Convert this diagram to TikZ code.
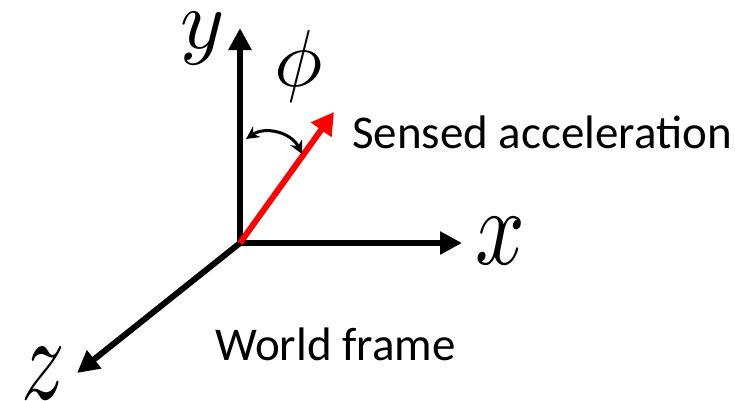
\documentclass[tikz,border=0pt]{standalone}
\usepackage{fontspec}
\setsansfont{Carlito}
\usetikzlibrary{arrows.meta}
\begin{document}
\begin{tikzpicture}[x=1pt,y=-1pt,
  axis/.style={line width=6pt,-{Triangle[length=22pt,width=22pt]}},
  vec/.style={line width=6pt,red,-{Triangle[length=22pt,width=24pt]}},
  angarc/.style={line width=3pt,{Stealth[length=13pt,width=13pt]}-{Stealth[length=13pt,width=13pt]}},
  mathlbl/.style={inner sep=0pt},
  txt/.style={font=\sffamily\fontsize{47}{50}\selectfont,inner sep=0pt,anchor=base west}]
\useasboundingbox (0,0) rectangle (735,400);
\coordinate (O) at (240,243);
\coordinate (Ytip) at (240,28);
\coordinate (Xtip) at (462,243);
\coordinate (Ztip) at (77,373);
\coordinate (Atip) at (334,112);
\coordinate (A1) at (246,139);
\coordinate (A2) at (302,154);
\draw[axis] (O) -- (Ytip);
\draw[axis] (O) -- (Xtip);
\draw[axis] (O) -- (Ztip);
\draw[vec] (O) -- (Atip);
\draw[angarc] (A1) .. controls (265,126) and (291,132) .. (A2);
\node[mathlbl,scale=8.4] (ylbl) at (203,38.5) {$y$};
\node[mathlbl,xscale=8.7,yscale=10.9] (xlbl) at (500,241.5) {$x$};
\node[mathlbl,xscale=8.6,yscale=12] (zlbl) at (43,374) {$z$};
\node[mathlbl,scale=8.1] (philbl) at (299,66.5) {$\phi$};
\node[txt] (sense) at (352,148) {Sensed acceleration};
\node[txt] (world) at (215,360) {World frame};
\end{tikzpicture}
\end{document}
